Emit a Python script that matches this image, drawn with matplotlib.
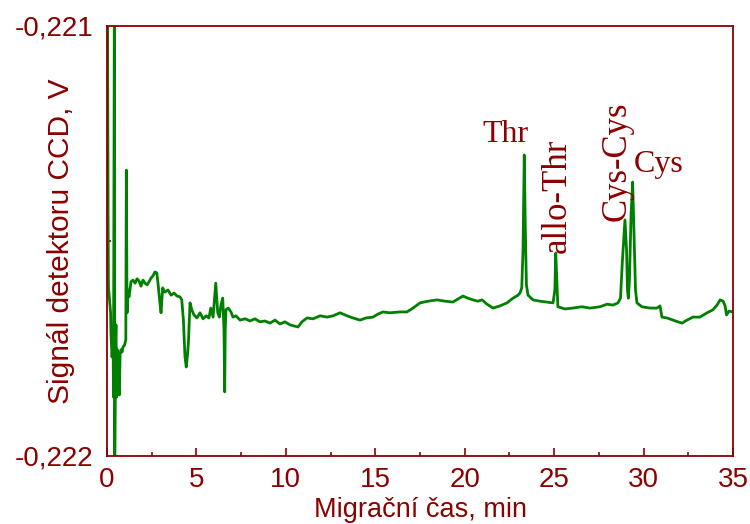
import matplotlib
matplotlib.use("Agg")
import matplotlib.pyplot as plt
from matplotlib.ticker import FixedLocator, MultipleLocator, FuncFormatter

# migration time, min
t_min = [
    0.00, 0.03, 0.06, 0.08, 0.14, 0.20, 0.22, 0.28, 0.34, 0.36,
    0.41, 0.43, 0.48, 0.50, 0.54, 0.58, 0.62, 0.65, 0.69, 0.73,
    0.78, 0.84, 0.89, 0.98, 1.05, 1.08, 1.12, 1.17, 1.23, 1.34,
    1.45, 1.57, 1.68, 1.79, 1.90, 2.01, 2.12, 2.24, 2.35, 2.46,
    2.57, 2.68, 2.78, 2.85, 2.94, 3.02, 3.11, 3.24, 3.41, 3.58,
    3.75, 3.91, 4.08, 4.18, 4.27, 4.36, 4.43, 4.50, 4.55, 4.64,
    4.74, 4.86, 5.03, 5.20, 5.37, 5.54, 5.70, 5.80, 5.93, 6.08,
    6.19, 6.28, 6.37, 6.47, 6.54, 6.58, 6.61, 6.65, 6.78, 6.93,
    7.04, 7.21, 7.44, 7.72, 8.00, 8.27, 8.55, 8.83, 9.11, 9.39,
    9.67, 9.95, 10.23, 10.51, 10.68, 10.90, 11.18, 11.52, 11.91, 12.30,
    12.64, 13.03, 13.42, 13.75, 14.15, 14.48, 14.87, 15.15, 15.43, 15.82,
    16.38, 16.77, 17.11, 17.50, 17.95, 18.45, 18.90, 19.34, 19.62, 19.90,
    20.18, 20.46, 20.74, 20.97, 21.25, 21.58, 21.97, 22.36, 22.70, 22.98,
    23.09, 23.19, 23.26, 23.33, 23.39, 23.45, 23.54, 23.82, 24.21, 24.60,
    24.94, 25.04, 25.09, 25.15, 25.21, 25.61, 26.05, 26.56, 27.00, 27.56,
    27.96, 28.29, 28.57, 28.71, 28.82, 28.96, 29.05, 29.10, 29.15, 29.21,
    29.30, 29.39, 29.46, 29.55, 29.63, 29.91, 30.36, 30.75, 30.92, 31.03,
    31.31, 31.64, 31.92, 32.15, 32.43, 32.76, 33.15, 33.55, 33.88, 34.11,
    34.28, 34.45, 34.56, 34.64, 34.78, 35.00,
]

# CCD detector signal, V
signal_v = [
    -0.220986, -0.221000, -0.221451, -0.221607, -0.221637, -0.221667, -0.221714, -0.221770, -0.221730, -0.221863,
    -0.220950, -0.222050, -0.221730, -0.221695, -0.221863, -0.221753, -0.221847, -0.221760, -0.221858, -0.221765,
    -0.221753, -0.221758, -0.221747, -0.221742, -0.221730, -0.221335, -0.221667, -0.221614, -0.221630, -0.221595,
    -0.221591, -0.221598, -0.221588, -0.221593, -0.221605, -0.221591, -0.221598, -0.221602, -0.221595, -0.221586,
    -0.221581, -0.221572, -0.221574, -0.221598, -0.221637, -0.221667, -0.221609, -0.221619, -0.221614, -0.221626,
    -0.221621, -0.221628, -0.221630, -0.221637, -0.221684, -0.221770, -0.221793, -0.221765, -0.221737, -0.221644,
    -0.221660, -0.221672, -0.221679, -0.221667, -0.221681, -0.221674, -0.221679, -0.221656, -0.221677, -0.221598,
    -0.221667, -0.221677, -0.221649, -0.221633, -0.221707, -0.221851, -0.221707, -0.221660, -0.221656, -0.221665,
    -0.221677, -0.221674, -0.221684, -0.221681, -0.221686, -0.221681, -0.221688, -0.221686, -0.221691, -0.221684,
    -0.221693, -0.221688, -0.221695, -0.221698, -0.221700, -0.221688, -0.221679, -0.221681, -0.221674, -0.221677,
    -0.221674, -0.221667, -0.221674, -0.221679, -0.221684, -0.221679, -0.221677, -0.221670, -0.221665, -0.221667,
    -0.221665, -0.221665, -0.221656, -0.221644, -0.221640, -0.221637, -0.221640, -0.221642, -0.221635, -0.221628,
    -0.221633, -0.221637, -0.221640, -0.221637, -0.221647, -0.221656, -0.221651, -0.221644, -0.221633, -0.221626,
    -0.221621, -0.221609, -0.221521, -0.221300, -0.221474, -0.221602, -0.221626, -0.221637, -0.221640, -0.221642,
    -0.221644, -0.221614, -0.221528, -0.221591, -0.221653, -0.221658, -0.221656, -0.221653, -0.221656, -0.221653,
    -0.221647, -0.221649, -0.221644, -0.221633, -0.221544, -0.221451, -0.221521, -0.221614, -0.221633, -0.221591,
    -0.221440, -0.221363, -0.221474, -0.221614, -0.221644, -0.221653, -0.221656, -0.221656, -0.221651, -0.221677,
    -0.221679, -0.221684, -0.221688, -0.221691, -0.221684, -0.221677, -0.221677, -0.221667, -0.221660, -0.221649,
    -0.221637, -0.221640, -0.221651, -0.221672, -0.221663, -0.221665,
]

peak_names = ["Thr", "allo-Thr", "Cys-Cys", "Cys"]
y_ticks = [-0.222, -0.221]

dark_red = "#8b0000"
green = "#008000"

fig = plt.figure(figsize=(7.5, 5.24), dpi=100)
ax = fig.add_axes([0.1427, 0.1298, 0.8346, 0.8206])

ax.plot(t_min, signal_v, color=green, linewidth=2.0)

ax.set_xlim(0, 35)
ax.set_ylim(-0.222, -0.221)

for s in ax.spines.values():
    s.set_color(dark_red)
    s.set_linewidth(1.3)

ax.xaxis.set_major_locator(MultipleLocator(5))
ax.xaxis.set_minor_locator(MultipleLocator(2.5))
ax.yaxis.set_major_locator(FixedLocator(y_ticks))
ax.yaxis.set_minor_locator(FixedLocator([-0.2215]))
ax.yaxis.set_major_formatter(FuncFormatter(lambda v, p: f"{v:.3f}".replace(".", ",")))

ax.tick_params(axis="x", which="major", direction="in", length=6, width=1.2,
               color=dark_red, labelcolor=dark_red, labelsize=20, pad=8)
ax.tick_params(axis="x", which="minor", direction="in", length=3, width=1.2, color=dark_red)
ax.tick_params(axis="y", which="major", direction="in", length=0,
               labelcolor=dark_red, labelsize=20, pad=10)
ax.tick_params(axis="y", which="minor", direction="in", length=3, width=1.2, color=dark_red)

for lab in ax.get_xticklabels() + ax.get_yticklabels():
    lab.set_fontfamily("Liberation Sans")

ax.set_xlabel("Migrační čas, min", color=dark_red, fontsize=19.5,
              family="Liberation Sans", labelpad=3)
ax.set_ylabel("Signál detektoru CCD, V", color=dark_red, fontsize=21.5,
              family="Liberation Sans")
ax.yaxis.set_label_coords(-0.051, 0.5)

serif = dict(color=dark_red, family="Liberation Serif", transform=ax.transAxes)
ax.text(0.636, 0.730, peak_names[0], ha="center", va="baseline", fontsize=23, **serif)
ax.text(0.720, 0.605, peak_names[1], ha="center", va="center", rotation=90, fontsize=25, **serif)
ax.text(0.815, 0.685, peak_names[2], ha="center", va="center", rotation=90, fontsize=25, **serif)
ax.text(0.881, 0.660, peak_names[3], ha="center", va="baseline", fontsize=23, **serif)

fig.savefig("out.png", dpi=100)
